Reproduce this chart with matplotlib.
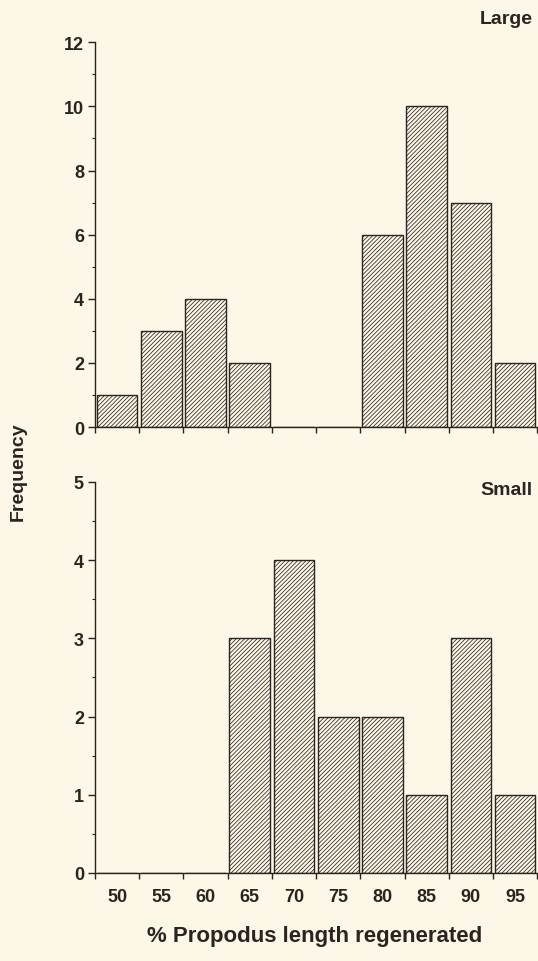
import numpy as np
import matplotlib.pyplot as plt
from matplotlib.ticker import MultipleLocator

bins = [50, 55, 60, 65, 70, 75, 80, 85, 90, 95]
large = [1, 3, 4, 2, 0, 0, 6, 10, 7, 2]
small = [0, 0, 0, 3, 4, 2, 2, 1, 3, 1]

bg = '#fdf7e7'
ink = '#2b2320'

plt.rcParams['font.family'] = ['Liberation Sans', 'DejaVu Sans']
plt.rcParams['hatch.linewidth'] = 0.55
plt.rcParams['hatch.color'] = ink

fig = plt.figure(figsize=(5.38, 9.62), dpi=100, facecolor=bg)
ax1 = fig.add_axes([0.1766, 0.555, 0.822, 0.4])
ax2 = fig.add_axes([0.1766, 0.0915, 0.822, 0.4065])

edges = np.arange(47.5, 100, 5)


def draw(ax, vals, ymax, major, minor, name, name_y):
    ax.set_facecolor(bg)
    ax.bar(bins, vals, width=4.6, color='none', edgecolor=ink, linewidth=1.0,
           hatch='////////')
    ax.set_xlim(47.5, 97.5)
    ax.set_ylim(0, ymax)
    for s in ['top', 'right']:
        ax.spines[s].set_visible(False)
    for s in ['left', 'bottom']:
        ax.spines[s].set_color(ink)
        ax.spines[s].set_linewidth(1.0)
    ax.yaxis.set_major_locator(MultipleLocator(major))
    ax.yaxis.set_minor_locator(MultipleLocator(minor))
    ax.set_xticks(bins)
    ax.set_xticks(edges, minor=True)
    ax.tick_params(axis='x', which='major', length=0, pad=11, labelsize=13,
                   colors=ink)
    ax.tick_params(axis='x', which='minor', length=4, width=1, color=ink)
    ax.tick_params(axis='y', which='major', length=5, width=1, labelsize=13,
                   colors=ink, pad=3)
    ax.tick_params(axis='y', which='minor', length=2.5, width=0.8, color=ink)
    for lab in ax.get_xticklabels() + ax.get_yticklabels():
        lab.set_fontweight('bold')
    ax.text(0.99, name_y, name, transform=ax.transAxes, ha='right',
            va='center', fontsize=14, fontweight='bold', color=ink)


draw(ax1, large, 12, 2, 1, 'Large', 1.063)
ax1.set_xticklabels([])
draw(ax2, small, 5, 1, 0.5, 'Small', 0.98)

fig.text(0.034, 0.51, 'Frequency', rotation=90, ha='center', va='center',
         fontsize=14, fontweight='bold', color=ink)
fig.text(0.585, 0.027, '% Propodus length regenerated', ha='center',
         va='center', fontsize=16, fontweight='bold', color=ink)

fig.savefig('out.png', dpi=100, facecolor=bg)
